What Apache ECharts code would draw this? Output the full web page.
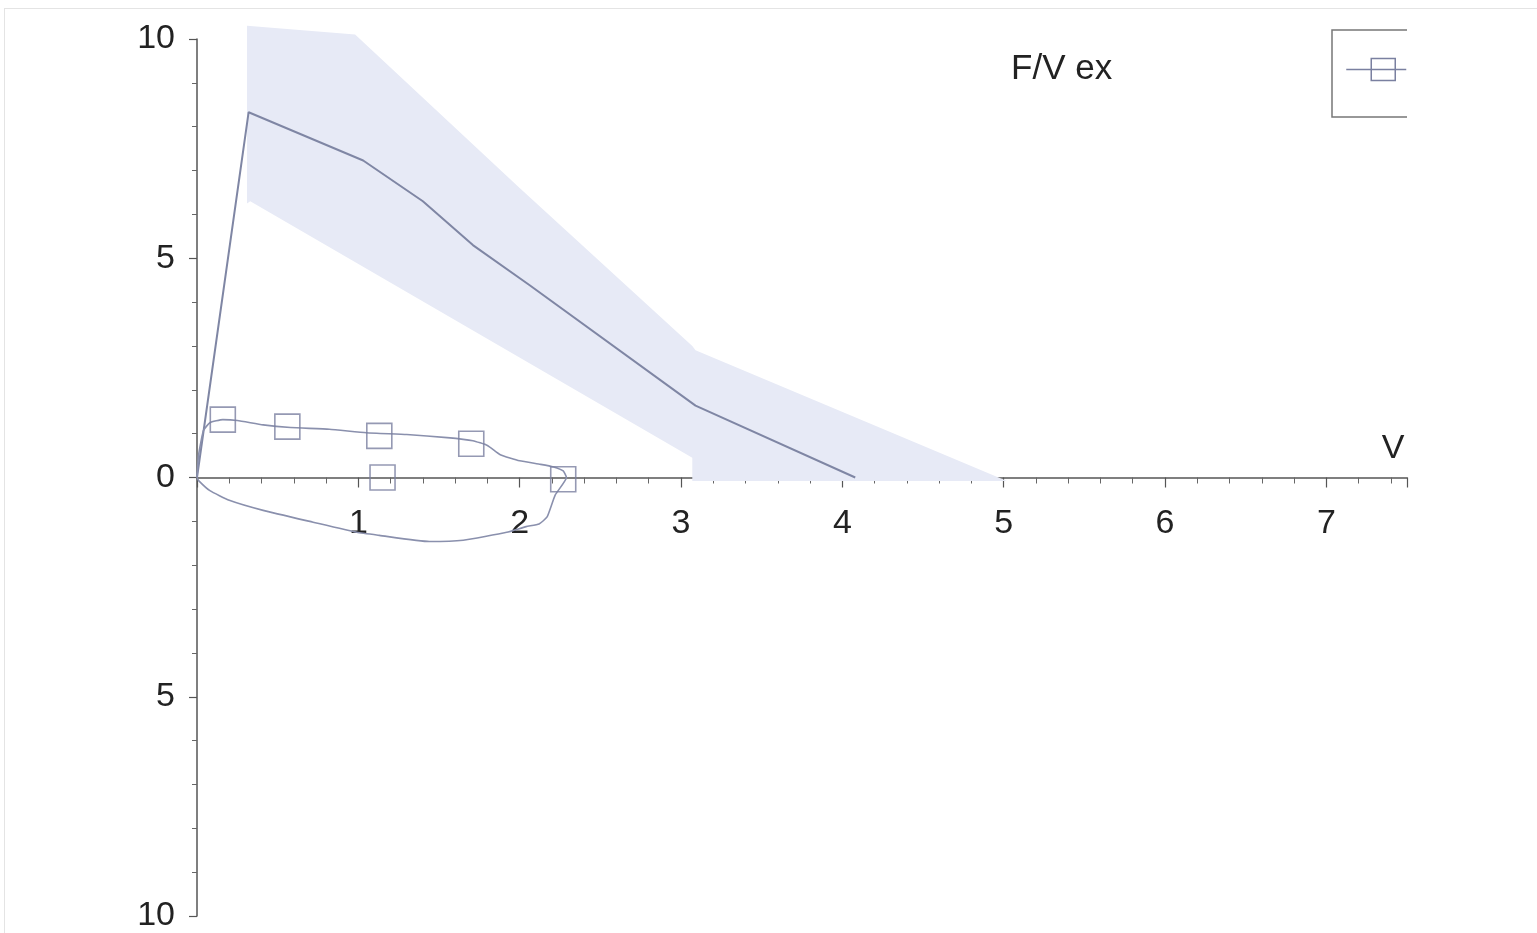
<!DOCTYPE html>
<html>
<head>
<meta charset="utf-8">
<script src="https://cdn.jsdelivr.net/npm/echarts@6/dist/echarts.min.js"></script>
<style>
html,body{margin:0;padding:0;background:#fff;}
#frame{position:absolute;left:4px;top:8px;width:1533px;height:925px;border-left:1px solid #e4e4e4;border-top:1px solid #e4e4e4;}
#chart{position:absolute;left:0;top:0;width:1537px;height:933px;}
</style>
</head>
<body>
<div id="frame"></div>
<div id="chart"></div>
<script>
// Predicted expiratory flow-volume curve (V in L, F in L/s)
const predV = [0, 0.32, 1.03, 1.40, 1.71, 2.06, 3.09, 4.08];
const predF = [0, 8.33, 7.23, 6.30, 5.30, 4.39, 1.64, 0];

// Normal range band (polygon outline: upper edge then lower edge back)
const bandV = [0.31, 0.98, 2.00, 3.07, 3.09, 5.02, 3.07, 3.07, 0.33, 0.31];
const bandF = [10.3, 10.1, 6.6, 3.0, 2.9, -0.08, -0.08, 0.45, 6.3, 6.25];

// Measured flow-volume loop (expiration then inspiration)
const loopV = [0, 0.01, 0.04, 0.08, 0.16, 0.25, 0.41, 0.58, 0.82, 1.05, 1.30, 1.55, 1.71, 1.80, 1.88, 2.00, 2.13, 2.21, 2.27, 2.29,
               2.22, 2.17, 2.12, 2.04, 1.92, 1.65, 1.44, 1.13, 0.99, 0.72, 0.41, 0.20, 0.08, 0.01, 0];
const loopF = [0, 0.52, 1.07, 1.25, 1.32, 1.30, 1.20, 1.14, 1.10, 1.02, 0.98, 0.91, 0.84, 0.73, 0.52, 0.38, 0.30, 0.24, 0.15, 0.0,
               -0.40, -0.90, -1.06, -1.12, -1.25, -1.43, -1.46, -1.32, -1.25, -1.02, -0.75, -0.52, -0.30, -0.07, 0];

// Square markers
const markV = [0.16, 0.56, 1.13, 1.70, 2.27, 1.15];
const markF = [1.32, 1.16, 0.95, 0.77, -0.04, 0.0];

const seriesName = 'F/V ex';
const xName = 'V';

const zip = (a, b) => a.map((v, i) => [v, b[i]]);
const font = "'Liberation Sans', Arial, sans-serif";
const lineCol = '#7f86a4';
const gridTop = 39, gridBottom = 17, H = 933;

const chart = echarts.init(document.getElementById('chart'), null, {renderer: 'canvas'});
chart.setOption({
  animation: false,
  backgroundColor: 'transparent',
  grid: {left: 197, right: 130, top: gridTop, bottom: gridBottom, outerBoundsMode: 'none', containLabel: false},
  legend: {
    right: 130, top: 52, padding: 0,
    align: 'right',
    selectedMode: false,
    itemWidth: 60, itemHeight: 24,
    data: [{name: seriesName, icon: 'path://M0,12L60,12M25,1L49,1L49,23L25,23Z'}],
    itemStyle: {color: 'rgba(0,0,0,0)', borderColor: '#7a80a0', borderWidth: 1.5},
    textStyle: {fontSize: 35, color: '#222', fontFamily: font, padding: [0, 229, 14, 0]}
  },
  graphic: [{
    type: 'polyline', silent: true,
    shape: {points: [[1407, 30], [1332, 30], [1332, 117], [1407, 117]]},
    style: {stroke: '#777', lineWidth: 1.5, fill: null}
  }],
  xAxis: {
    type: 'value', min: 0, max: 7.5, interval: 1,
    position: 'bottom',
    offset: -(H - gridTop - gridBottom) / 2,
    name: xName, nameLocation: 'end', nameGap: -14,
    nameTextStyle: {fontSize: 34, color: '#222', fontFamily: font, align: 'center', verticalAlign: 'bottom', padding: [0, 0, 12, 0]},
    axisLine: {onZero: false, lineStyle: {color: '#555', width: 1.5}},
    axisTick: {show: true, length: 10, lineStyle: {color: '#555', width: 1.2}},
    minorTick: {show: true, splitNumber: 5, length: 6, lineStyle: {color: '#666', width: 1}},
    splitLine: {show: false},
    axisLabel: {fontSize: 34, color: '#222', fontFamily: font, margin: 29,
      formatter: v => (v === 0 || Math.round(v) !== v) ? '' : String(v)}
  },
  yAxis: {
    type: 'value', min: -10, max: 10, interval: 5,
    axisLine: {show: true, onZero: false, lineStyle: {color: '#555', width: 1.5}},
    axisTick: {show: true, length: 8, lineStyle: {color: '#555', width: 1.2}},
    minorTick: {show: true, splitNumber: 5, length: 5, lineStyle: {color: '#666', width: 1}},
    splitLine: {show: false},
    axisLabel: {fontSize: 34, color: '#222', fontFamily: font, margin: 22,
      formatter: v => String(Math.abs(v))}
  },
  series: [
    {
      type: 'custom', name: 'band', silent: true, z: 1,
      data: zip(bandV, bandF),
      renderItem: (params, api) => {
        if (params.dataIndex !== 0) return null;
        const pts = bandV.map((v, i) => api.coord([v, bandF[i]]));
        return {type: 'polygon', shape: {points: pts}, style: {fill: '#e7eaf6', stroke: null}};
      }
    },
    {
      type: 'line', name: 'pred', data: zip(predV, predF), symbol: 'none', z: 3,
      lineStyle: {color: lineCol, width: 2}
    },
    {
      type: 'line', name: seriesName, data: zip(loopV, loopF), symbol: 'none', smooth: 0.15, z: 3,
      lineStyle: {color: '#8a90ad', width: 1.6}
    },
    {
      type: 'scatter', name: seriesName, data: zip(markV, markF), symbol: 'rect', symbolSize: 25, z: 4,
      itemStyle: {color: 'rgba(0,0,0,0)', borderColor: '#7a80a0', borderWidth: 1.6}
    }
  ]
});
</script>
</body>
</html>
